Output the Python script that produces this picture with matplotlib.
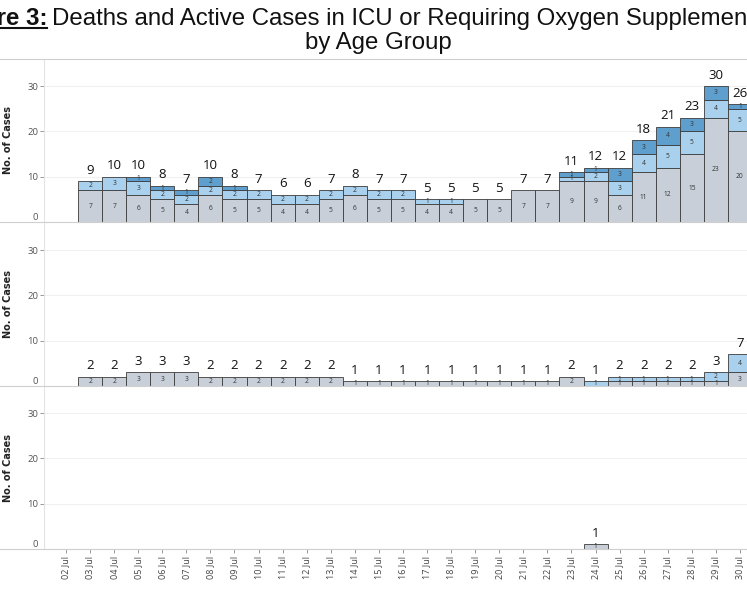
import matplotlib
matplotlib.use('Agg')
import matplotlib.pyplot as plt
from matplotlib.lines import Line2D
import numpy as np

W, H = 747, 598

dates = [f'{d:02d} Jul' for d in range(2, 31)]

# panel 1 (top)
top_oxygen = [0, 7, 7, 6, 5, 4, 6, 5, 5, 4, 4, 5, 6, 5, 5, 4, 4, 5, 5, 7, 7, 9, 9, 6, 11, 12, 15, 23, 20]
top_icu = [0, 2, 3, 3, 2, 2, 2, 2, 2, 2, 2, 2, 2, 2, 2, 1, 1, 0, 0, 0, 0, 1, 2, 3, 4, 5, 5, 4, 5]
top_deaths = [0, 0, 0, 1, 1, 1, 2, 1, 0, 0, 0, 0, 0, 0, 0, 0, 0, 0, 0, 0, 0, 1, 1, 3, 3, 4, 3, 3, 1]

# panel 2 (middle)
mid_oxygen = [0, 2, 2, 3, 3, 3, 2, 2, 2, 2, 2, 2, 1, 1, 1, 1, 1, 1, 1, 1, 1, 2, 0, 1, 1, 1, 1, 1, 3]
mid_icu = [0, 0, 0, 0, 0, 0, 0, 0, 0, 0, 0, 0, 0, 0, 0, 0, 0, 0, 0, 0, 0, 0, 1, 1, 1, 1, 1, 2, 4]
mid_deaths = [0] * 29

# panel 3 (bottom)
bot_oxygen = [0] * 22 + [1] + [0] * 6
bot_icu = [0] * 29
bot_deaths = [0] * 29

panels = [
    (top_oxygen, top_icu, top_deaths),
    (mid_oxygen, mid_icu, mid_deaths),
    (bot_oxygen, bot_icu, bot_deaths),
]
colors = ['#c9cfd8', '#a9d0ec', '#5f9fcd']
edge = '#3c3c3c'

fig = plt.figure(figsize=(W / 100, H / 100), dpi=100)
fig.patch.set_facecolor('white')

# panel pixel geometry
ax_left, ax_right = 44, 760
px_per_day = 24.07
x0_px = 66
bottoms = [222, 386, 549]
panel_h = 163
xlim = (-(x0_px - ax_left) / px_per_day, -(x0_px - ax_left) / px_per_day + (ax_right - ax_left) / px_per_day)

x = np.arange(len(dates))
axes = []
for i, (s1, s2, s3) in enumerate(panels):
    b = bottoms[i]
    ax = fig.add_axes([ax_left / W, (H - b) / H, (ax_right - ax_left) / W, panel_h / H])
    axes.append(ax)
    base = np.zeros(len(dates))
    for vals, c in zip((s1, s2, s3), colors):
        vals = np.array(vals)
        mask = vals > 0
        ax.bar(x[mask], vals[mask], width=1.0, bottom=base[mask], color=c,
               edgecolor=edge, linewidth=0.6, zorder=3)
        for xi, v, b0 in zip(x[mask], vals[mask], base[mask]):
            ax.text(xi, b0 + v / 2, str(v), ha='center', va='center',
                    fontsize=4.8, color='#333333', zorder=4, family='Open Sans')
        base = base + vals
    for xi, t in zip(x, base):
        if t > 0:
            ax.text(xi, t + 1.0, str(int(t)), ha='center', va='bottom',
                    fontsize=9.5, color='#111111', zorder=4, family='Open Sans')

    ax.set_xlim(*xlim)
    ax.set_ylim(0, 36)
    ax.set_yticks([0, 10, 20, 30])
    ax.set_yticklabels(['0', '10', '20', '30'], fontsize=6.8, color='#555555', family='Open Sans')
    ax.yaxis.get_majorticklabels()[0].set_va('bottom')
    ax.get_yticklines()[0].set_visible(False)
    ax.tick_params(axis='y', length=3, width=0.6, color='#888888', pad=1)
    ax.grid(axis='y', color='#f0f0f0', linewidth=0.8, zorder=0)
    for sp in ['top', 'right', 'bottom']:
        ax.spines[sp].set_visible(False)
    ax.spines['left'].set_color('#e4e4e4')
    ax.spines['left'].set_linewidth(0.8)
    ax.set_ylabel('No. of Cases', fontsize=7, fontweight='bold', family='DejaVu Sans',
                  color='#222222')
    ax.yaxis.set_label_coords(-(ax_left - 13) / (ax_right - ax_left), 0.5)
    ax.set_xticks(x)
    if i < 2:
        ax.tick_params(axis='x', length=0, labelbottom=False)
    else:
        ax.set_xticklabels(dates, rotation=90, fontsize=6.5, color='#444444', family='Open Sans')
        ax.tick_params(axis='x', length=3, width=0.6, color='#888888', pad=2)

# horizontal separators spanning the full width
for yy in [59] + bottoms:
    fig.add_artist(Line2D([0, 1], [(H - yy) / H, (H - yy) / H], color='#cfcfcf', linewidth=0.8))

# title (cut off at both sides, as in the source)
fig.text(52 / W, (H - 25) / H, 'Deaths and Active Cases in ICU or Requiring Oxygen Supplementation',
         ha='left', va='baseline', fontsize=17.3, family='Liberation Sans', color='#111111')
t1 = fig.text(47 / W, (H - 25) / H, 'Figure 3:', ha='right', va='baseline', fontsize=17.3,
              family='Liberation Sans', fontweight='bold', color='#111111')
fig.text(378 / W, (H - 49) / H, 'by Age Group', ha='center', va='baseline', fontsize=17.3,
         family='Liberation Sans', color='#111111')
fig.canvas.draw()
bb = t1.get_window_extent(fig.canvas.get_renderer())
fig.add_artist(Line2D([bb.x0 / W, bb.x1 / W], [(H - 28) / H, (H - 28) / H], color='#111111', linewidth=1.5))

fig.savefig('out.png', dpi=100)
